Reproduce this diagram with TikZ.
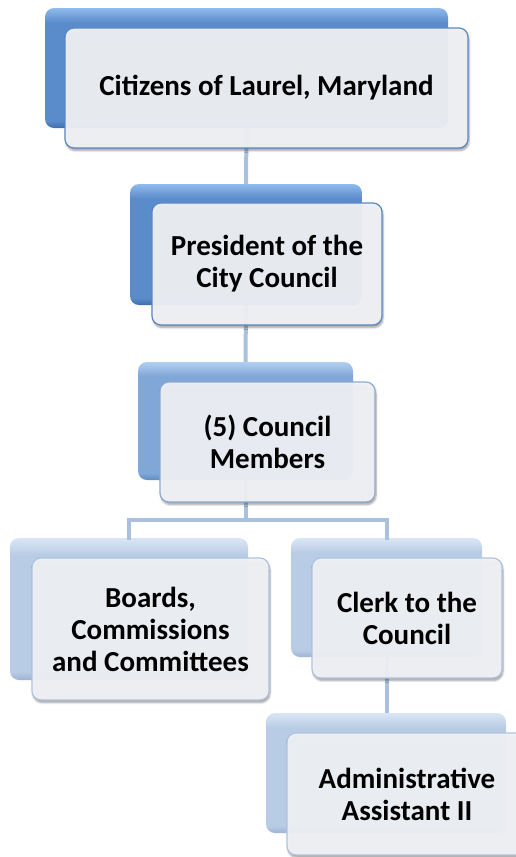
\documentclass[tikz,border=0pt]{standalone}
\usepackage{fontspec}
\setmainfont{Carlito}
\usetikzlibrary{shadows.blur}
\definecolor{dkTop}{HTML}{90BAEC}
\definecolor{dkMain}{HTML}{5A8CCC}
\definecolor{dkBot}{HTML}{3E6DAC}
\definecolor{mdTop}{HTML}{B2CFF0}
\definecolor{mdMain}{HTML}{80A7D8}
\definecolor{mdBot}{HTML}{628CC2}
\definecolor{ltTop}{HTML}{DAE6F5}
\definecolor{ltMain}{HTML}{B9CCE6}
\definecolor{ltBot}{HTML}{9DB3D2}
\definecolor{frontFill}{HTML}{F0F2F6}
\definecolor{edgeDark}{HTML}{5C87C3}
\definecolor{edgeMid}{HTML}{8CAAD4}
\definecolor{edgeLight}{HTML}{AFC3E0}
\definecolor{linkCol}{HTML}{A9C0DE}
\pgfdeclareverticalshading{darkback}{100bp}{color(0bp)=(dkBot); color(25bp)=(dkBot); color(28bp)=(dkMain); color(69bp)=(dkMain); color(75bp)=(dkTop); color(100bp)=(dkTop)}
\pgfdeclareverticalshading{midback}{100bp}{color(0bp)=(mdBot); color(25bp)=(mdBot); color(28bp)=(mdMain); color(69bp)=(mdMain); color(75bp)=(mdTop); color(100bp)=(mdTop)}
\pgfdeclareverticalshading{lightback}{100bp}{color(0bp)=(ltBot); color(25bp)=(ltBot); color(28bp)=(ltMain); color(69bp)=(ltMain); color(75bp)=(ltTop); color(100bp)=(ltTop)}
\tikzset{
  backbox/.style={rectangle, rounded corners=9pt, inner sep=0pt, draw=none},
  backdark/.style={backbox, shading=darkback},
  backmid/.style={backbox, shading=midback},
  backlight/.style={backbox, shading=lightback},
  frontbox/.style={rectangle, rounded corners=9pt, inner sep=0pt, fill=frontFill,
    fill opacity=0.95, text opacity=1, line width=1.2pt, align=center,
    font=\fontsize{29}{32}\selectfont\bfseries,
    blur shadow={shadow xshift=1pt, shadow yshift=-2.5pt, shadow blur steps=6, shadow opacity=40}},
  frontdark/.style={frontbox, draw=edgeDark},
  frontmid/.style={frontbox, draw=edgeMid},
  frontlight/.style={frontbox, draw=edgeLight},
  link/.style={draw=linkCol, line width=4pt}
}
\begin{document}
\begin{tikzpicture}[x=1pt, y=-1pt]
\useasboundingbox (0,0) rectangle (516,857);
% back boxes
\node[backdark, minimum width=403pt, minimum height=120pt] (b1) at (246.5,68) {};
\node[backdark, minimum width=232pt, minimum height=121pt] (b2) at (246,244.5) {};
\node[backmid, minimum width=215pt, minimum height=118pt] (b3) at (245.5,421) {};
\node[backlight, minimum width=238pt, minimum height=142pt] (b4) at (129,609) {};
\node[backlight, minimum width=191pt, minimum height=119pt] (b5) at (386.5,597.5) {};
\node[backlight, minimum width=240pt, minimum height=120pt] (b6) at (386,773) {};
% connectors
\coordinate (j) at (245.5,520);
\draw[link] (b1.south) -- (b2.north);
\draw[link] (b2.south) -- (b3.north);
\draw[link] (b3.south) -- (j);
\draw[link, line cap=rect] (j) -| (b4.north);
\draw[link, line cap=rect] (j) -| (b5.north);
\draw[link] (b5.south) -- (b5.south |- b6.north);
% front boxes
\node[frontdark, minimum width=403pt, minimum height=120pt] (f1) at (266.5,88) {Citizens of Laurel, Maryland};
\node[frontdark, minimum width=230pt, minimum height=122pt] (f2) at (267,264) {President of the\\City Council};
\node[frontmid, minimum width=215pt, minimum height=120pt] (f3) at (267.5,442) {(5) Council\\Members};
\node[frontlight, minimum width=237pt, minimum height=142pt] (f4) at (150.5,629) {Boards,\\Commissions\\and Committees};
\node[frontlight, minimum width=190pt, minimum height=120pt] (f5) at (407,618) {Clerk to the\\Council};
\node[frontlight, minimum width=240pt, minimum height=122pt] (f6) at (407,794) {Administrative\\Assistant II};
\end{tikzpicture}
\end{document}
